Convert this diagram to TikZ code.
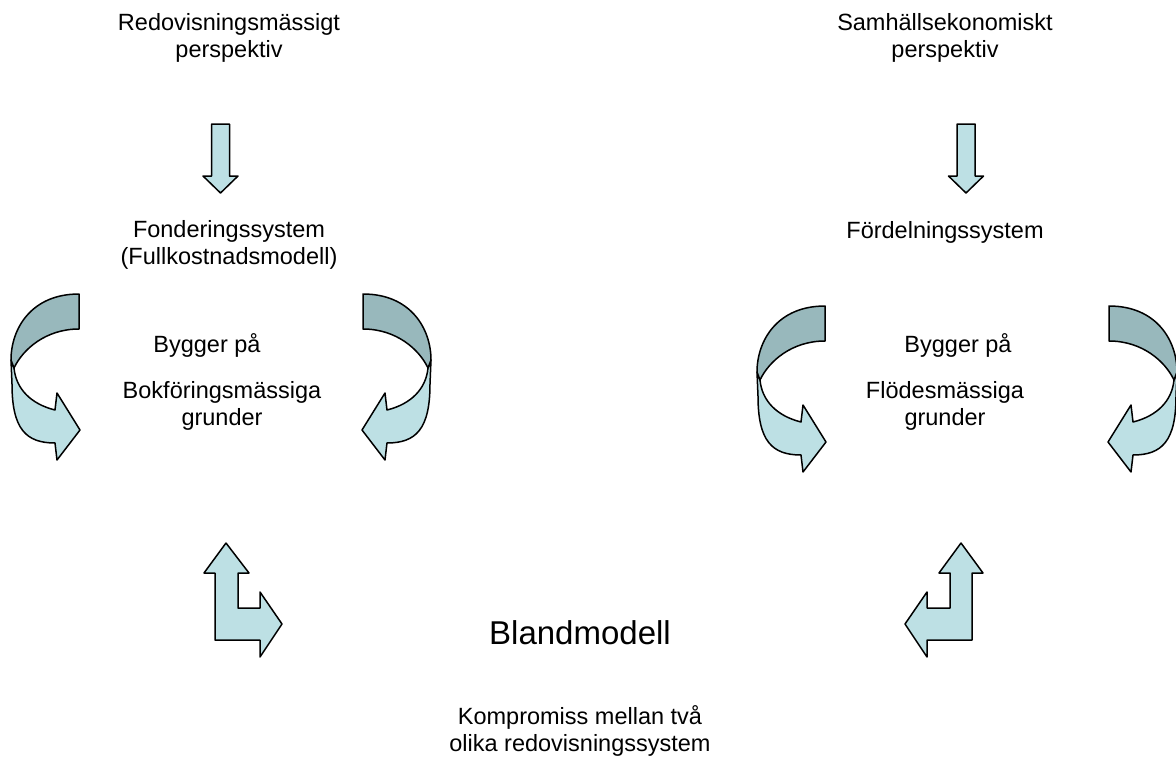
\documentclass[tikz,border=0pt]{standalone}
\usepackage{fontspec}
\setmainfont{Liberation Sans}
\usetikzlibrary{positioning}

\definecolor{lightblk}{RGB}{189,224,228}
\definecolor{darkblk}{RGB}{152,184,188}

\tikzset{
  blockfill/.style={fill=lightblk, draw=black, line width=1.5pt, line join=round},
  backfill/.style={fill=darkblk, draw=black, line width=1.5pt, line join=round},
  txt/.style={font=\fontsize{23.5}{27}\selectfont, align=center},
  bigtxt/.style={font=\fontsize{33}{40}\selectfont},
  % curved band arrow, origin on its mirror axis at the tail top
  bendarrow/.pic={
    \draw[blockfill] (-210,66) -- (-209,90) .. controls (-209,135) and (-195,149) .. (-166,149)
      -- (-164,166) -- (-141,136) -- (-164,99) -- (-166,116)
      .. controls (-190,110) and (-205,95) .. (-207,74) -- cycle;
    \draw[backfill] (-142,0) .. controls (-190,0) and (-210,35) .. (-210,66) -- (-207,74)
      .. controls (-198,55) and (-175,35) .. (-142,35) -- cycle;
  },
  % straight block arrow, origin at top middle
  downarrow/.pic={
    \draw[blockfill] (-9,0) -- (9,0) -- (9,52) -- (17.5,52) -- (0,69) -- (-17.5,52) -- (-9,52) -- cycle;
  }
}

\begin{document}
\begin{tikzpicture}[x=1pt, y=-1pt]
  \useasboundingbox (0,0) rectangle (1176,758);

  % perspectives
  \node[txt] (redov) at (229,38) {Redovisningsmässigt\\perspektiv};
  \node[txt] (samh) at (945,38) {Samhällsekonomiskt\\perspektiv};
  \pic at (220.5,124) {downarrow};
  \pic at (966,124) {downarrow};

  % systems
  \node[txt] (fonder) at (229,245) {Fonderingssystem\\(Fullkostnadsmodell)};
  \node[txt] (fordel) at (945,232) {Fördelningssystem};

  % curved arrows
  \pic at (221,294) {bendarrow};
  \pic[xscale=-1] at (221,294) {bendarrow};
  \pic at (967,306) {bendarrow};
  \pic[xscale=-1] at (967,306) {bendarrow};
  \node[txt] (byggL) at (207,345) {Bygger på};
  \node[txt] (byggR) at (958,345) {Bygger på};

  % grounds
  \node[txt] (bokf) at (222,406) {Bokföringsmässiga\\grunder};
  \node[txt] (flodes) at (945,406) {Flödesmässiga\\grunder};

  % bent arrows
  \draw[blockfill] (226,543) -- (249,573) -- (238,573) -- (238,608) -- (260,608) -- (260,592)
    -- (282,624) -- (260,657) -- (260,640) -- (215,640) -- (215,573) -- (204,573) -- cycle;
  \draw[blockfill] (961,543) -- (983,573) -- (972,573) -- (972,640) -- (927,640) -- (927,657)
    -- (905,624) -- (927,592) -- (927,608) -- (950,608) -- (950,573) -- (939,573) -- cycle;

  % mixed model
  \node[bigtxt] (bland) at (580,633) {Blandmodell};
  \node[txt] (kompr) at (580,731) {Kompromiss mellan två\\olika redovisningssystem};
\end{tikzpicture}
\end{document}
